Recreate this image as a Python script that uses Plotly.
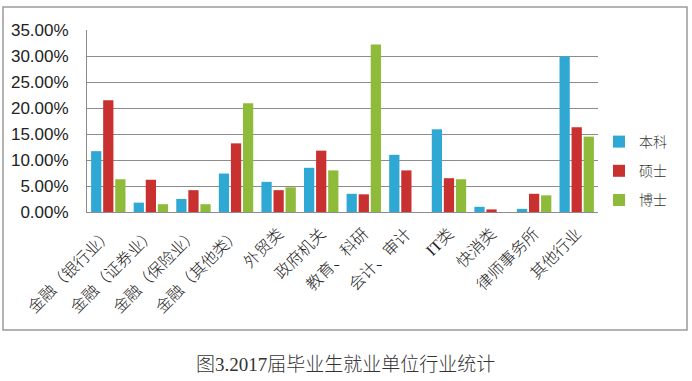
import plotly.graph_objects as go

categories = ["金融（银行业）", "金融（证券业）", "金融（保险业）", "金融（其他类）", "外贸类",
              "政府机关", "教育、科研", "会计、审计", "IT类", "快消类", "律师事务所", "其他行业"]
benke = [11.7, 1.8, 2.5, 7.4, 5.8, 8.5, 3.5, 11.0, 15.9, 1.0, 0.6, 29.9]
shuoshi = [21.5, 6.2, 4.2, 13.2, 4.2, 11.8, 3.4, 8.0, 6.5, 0.5, 3.5, 16.3]
boshi = [6.3, 1.5, 1.5, 20.9, 4.75, 8.0, 32.2, 0.0, 6.3, 0.0, 3.2, 14.5]
series_names = ["本科", "硕士", "博士"]
colors = ["#2fa9d3", "#c93131", "#8fbb3a"]
tick_vals = [0, 5, 10, 15, 20, 25, 30, 35]
tick_text = ["0.00%", "5.00%", "10.00%", "15.00%", "20.00%", "25.00%", "30.00%", "35.00%"]
caption = "图3.2017届毕业生就业单位行业统计"

W, H = 692, 381
L, R, T, B = 87, 598, 30, 212

cjk = "Liberation Serif, Noto Sans CJK SC"

fig = go.Figure()
for name, vals, col in zip(series_names, [benke, shuoshi, boshi], colors):
    fig.add_trace(go.Bar(x=categories, y=vals, name=name, marker_color=col,
                         marker_line_width=0, legendgroup=name))

def px_x(p):
    return (p - L) / (R - L)

def px_y(p):
    return (B - p) / (B - T)

fig.update_layout(
    width=W, height=H,
    margin=dict(l=L, r=W - R, t=T, b=H - B, autoexpand=False),
    paper_bgcolor="white", plot_bgcolor="white",
    barmode="group", bargap=0.15, bargroupgap=0.15,
    showlegend=True,
    legend=dict(x=px_x(599), y=px_y(126), xanchor="left", yanchor="top",
                font=dict(family=cjk, size=14, color="#333333", weight=300),
                tracegroupgap=8, itemwidth=30, bgcolor="rgba(0,0,0,0)"),
    xaxis=dict(tickangle=-45, tickfont=dict(family=cjk, size=16, color="#222222", weight=300),
               showline=True, linecolor="#8c8c8c", linewidth=1, showgrid=False,
               ticks="", ticklabelstandoff=5, automargin=False),
    yaxis=dict(range=[0, 35], tickvals=tick_vals, ticktext=tick_text,
               tickfont=dict(family="Liberation Sans, Arial", size=17, color="#222222"),
               showgrid=True, gridcolor="#8c8c8c", gridwidth=1,
               showline=True, linecolor="#8c8c8c", linewidth=1,
               ticks="", ticklabelstandoff=14, zeroline=False, automargin=False),
    shapes=[dict(type="rect", xref="paper", yref="paper",
                 x0=px_x(3), x1=px_x(687), y0=px_y(330), y1=px_y(7),
                 line=dict(color="#9a9a9a", width=1.5), fillcolor="rgba(0,0,0,0)")],
    annotations=[dict(text=caption, xref="paper", yref="paper", x=px_x(345), y=px_y(364),
                      xanchor="center", yanchor="middle", showarrow=False,
                      font=dict(family=cjk, size=19, color="#333333", weight=300))],
)

fig.write_html("out.html", config={"displayModeBar": False},
               post_script="document.body.style.margin='0';document.body.style.overflow='hidden';")
